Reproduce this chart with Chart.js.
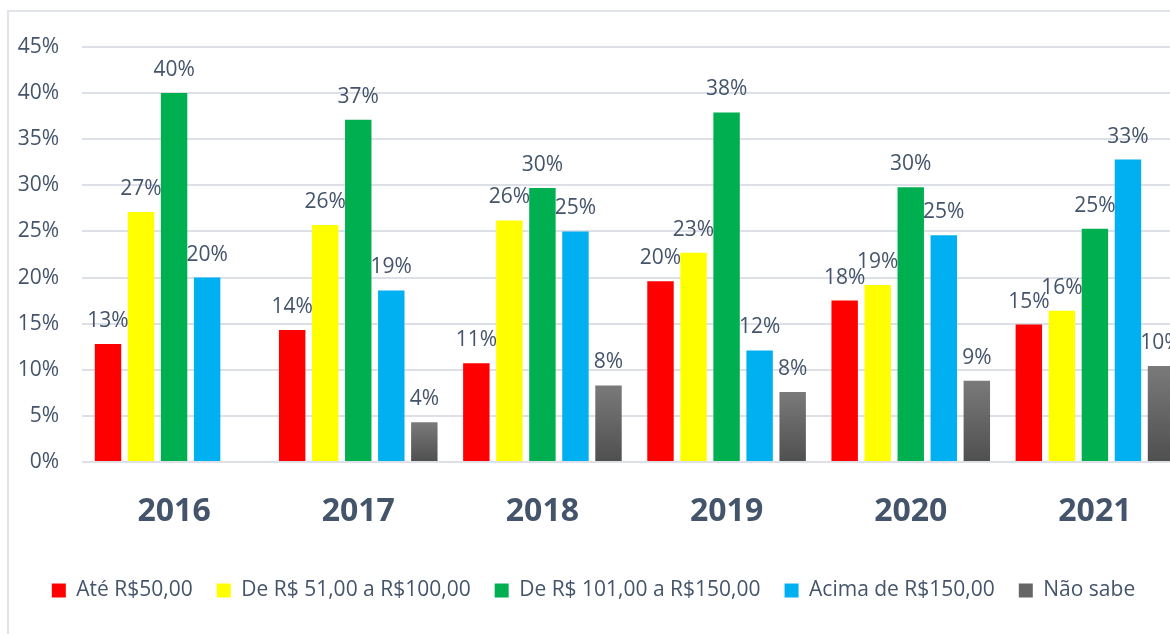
<!DOCTYPE html>
<html>
<head>
<meta charset="utf-8">
<script src="https://cdn.jsdelivr.net/npm/chart.js"></script>
<style>
    html, body { margin: 0; padding: 0; background: #fff; overflow: hidden; }
    #frame { position: absolute; left: 7px; top: 10px; width: 1300px; height: 700px;
             border-left: 2px solid #e1e5ea; border-top: 2px solid #e1e5ea; }
    #wrap { position: absolute; left: 0; top: 0; width: 1200px; height: 634px; }
</style>
</head>
<body>
<div id="frame"></div>
<div id="wrap"><canvas id="gastoChart"></canvas></div>
<script>
    // ─── DATA ───────────────────────────────────────────────
    const years = ['2016', '2017', '2018', '2019', '2020', '2021'];
    const ate50 = [12.8, 14.3, 10.7, 19.6, 17.5, 14.9];
    const de51a100 = [27.1, 25.7, 26.2, 22.7, 19.2, 16.4];
    const de101a150 = [40.0, 37.1, 29.7, 37.9, 29.8, 25.3];
    const acima150 = [20.0, 18.6, 25.0, 12.1, 24.6, 32.8];
    const naoSabe = [null, 4.3, 8.3, 7.6, 8.8, 10.4];
    const yTicks = [0, 5, 10, 15, 20, 25, 30, 35, 40, 45];

    const TEXT = '#44546a';
    const FONT = "'Open Sans', 'Noto Sans', sans-serif";

    // gray bars: per-bar vertical gradient, like the Excel original
    function grayFill(context) {
        const chart = context.chart;
        const v = context.raw;
        if (!chart.chartArea || v == null || !chart.scales.y) return '#666666';
        const y = chart.scales.y;
        const top = y.getPixelForValue(v);
        const bottom = y.getPixelForValue(0);
        const g = chart.ctx.createLinearGradient(0, top, 0, bottom);
        g.addColorStop(0, '#7a7a7a');
        g.addColorStop(1, '#4f4f4f');
        return g;
    }

    // ─── PLUGIN: value labels above bars ────────────────────
    const valueLabels = {
        id: 'valueLabels',
        afterDatasetsDraw(chart) {
            const ctx = chart.ctx;
            ctx.save();
            ctx.font = '21px ' + FONT;
            ctx.fillStyle = TEXT;
            ctx.textAlign = 'center';
            ctx.textBaseline = 'alphabetic';
            chart.data.datasets.forEach((ds, i) => {
                const meta = chart.getDatasetMeta(i);
                meta.data.forEach((bar, j) => {
                    const v = ds.data[j];
                    if (v == null) return;
                    ctx.fillText(Math.round(v) + '%', bar.x, bar.y - 17);
                });
            });
            ctx.restore();
        }
    };

    const ctx = document.getElementById('gastoChart').getContext('2d');
    new Chart(ctx, {
        type: 'bar',
        data: {
            labels: years,
            datasets: [
                { label: 'Até R$50,00', data: ate50, backgroundColor: '#ff0000' },
                { label: 'De R$ 51,00 a R$100,00', data: de51a100, backgroundColor: '#ffff00' },
                { label: 'De R$ 101,00 a R$150,00', data: de101a150, backgroundColor: '#00b050' },
                { label: 'Acima de R$150,00', data: acima150, backgroundColor: '#00b0f0' },
                { label: 'Não sabe', data: naoSabe, backgroundColor: grayFill }
            ]
        },
        options: {
            responsive: true,
            maintainAspectRatio: false,
            animation: false,
            datasets: { bar: { categoryPercentage: 0.897, barPercentage: 0.8 } },
            layout: { padding: { top: 47, right: 13, bottom: 23, left: 0 } },
            plugins: {
                tooltip: { enabled: false },
                legend: {
                    position: 'bottom',
                    labels: {
                        boxWidth: 14, boxHeight: 14, padding: 24,
                        color: TEXT, font: { family: FONT, size: 21 },
                        generateLabels(chart) {
                            const items = Chart.defaults.plugins.legend.labels.generateLabels(chart);
                            items.forEach(it => {
                                if (typeof it.fillStyle !== 'string') it.fillStyle = '#666666';
                                it.lineWidth = 0;
                                it.strokeStyle = 'rgba(0,0,0,0)';
                            });
                            return items;
                        }
                    }
                }
            },
            scales: {
                x: {
                    grid: { display: false, drawTicks: false },
                    border: { display: false },
                    ticks: { color: TEXT, padding: 31, font: { family: FONT, size: 32, weight: 'bold' } },
                    afterFit(scale) { scale.height = 94; }
                },
                y: {
                    min: 0, max: 45,
                    afterBuildTicks(scale) { scale.ticks = yTicks.map(v => ({ value: v })); },
                    grid: { color: '#dde1e7', lineWidth: 2, drawTicks: false },
                    border: { display: false },
                    ticks: { color: TEXT, padding: 23, font: { family: FONT, size: 21 }, callback: v => v + '%' },
                    afterFit(scale) { scale.width = 82; }
                }
            }
        },
        plugins: [valueLabels]
    });
</script>
</body>
</html>
